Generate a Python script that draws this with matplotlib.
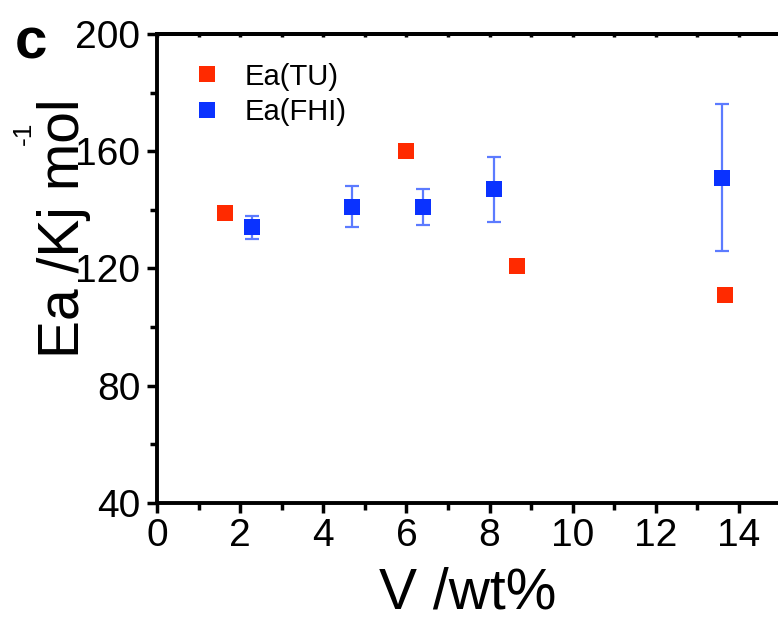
import numpy as np
import matplotlib
matplotlib.use('Agg')
import matplotlib.pyplot as plt
from matplotlib.ticker import MultipleLocator

plt.rcParams['font.family'] = ['Liberation Sans', 'DejaVu Sans']

# Ea from TU
tu_x = [1.63, 5.99, 8.67, 13.67]
tu_y = [139, 160, 121, 111]

# Ea from FHI with error bars
fhi_x = [2.29, 4.70, 6.41, 8.11, 13.60]
fhi_y = [134, 141, 141, 147, 151]
fhi_err = [4, 7, 6, 11, 25]

red = '#ff2a00'
blue = '#0a32ff'

fig = plt.figure(figsize=(7.78, 6.24), dpi=100)
ax = fig.add_axes([0.2018, 0.194, 0.7982, 0.7515])

ax.errorbar(fhi_x, fhi_y, yerr=fhi_err, fmt='none', ecolor='#5c7bff',
            elinewidth=1.6, capsize=5, capthick=1.6, zorder=2)
ax.plot(tu_x, tu_y, 's', color=red, markersize=12.2, markeredgewidth=0,
        label='Ea(TU)', zorder=3)
ax.plot(fhi_x, fhi_y, 's', color=blue, markersize=12.2, markeredgewidth=0,
        label='Ea(FHI)', zorder=3)

ax.set_xlim(0, 14.94)
ax.set_ylim(40, 200)
ax.xaxis.set_major_locator(MultipleLocator(2))
ax.xaxis.set_minor_locator(MultipleLocator(1))
ax.yaxis.set_major_locator(MultipleLocator(40))
ax.yaxis.set_minor_locator(MultipleLocator(20))

for side in ['left', 'bottom', 'top']:
    ax.spines[side].set_linewidth(2.8)
ax.spines['right'].set_visible(False)

ax.tick_params(which='major', direction='out', length=7, width=2.5,
               labelsize=28, pad=4)
ax.tick_params(axis='y', which='major', pad=5)
ax.tick_params(which='minor', direction='out', length=5, width=2.5)

# small inward ticks along the top frame
top = ax.secondary_xaxis('top')
top.xaxis.set_major_locator(MultipleLocator(1))
top.tick_params(direction='in', length=2, width=2.5, labeltop=False)
top.spines['top'].set_linewidth(2.8)

ax.set_xlabel('V /wt%', fontsize=41, labelpad=9)

fig.text(0.082, 0.635, 'Ea /Kj mol', rotation=90, fontsize=41,
         ha='center', va='center')
fig.text(0.031, 0.787, '-1', rotation=90, fontsize=19,
         ha='center', va='center')
fig.text(0.019, 0.93, 'c', fontsize=42, fontweight='bold',
         ha='left', va='center')

leg = ax.legend(loc='upper left', bbox_to_anchor=(0.005, 0.995), frameon=False,
                fontsize=21, handletextpad=0.6, labelspacing=0.25,
                markerscale=1.0, handlelength=1.4)

fig.savefig('out.png', dpi=100)
